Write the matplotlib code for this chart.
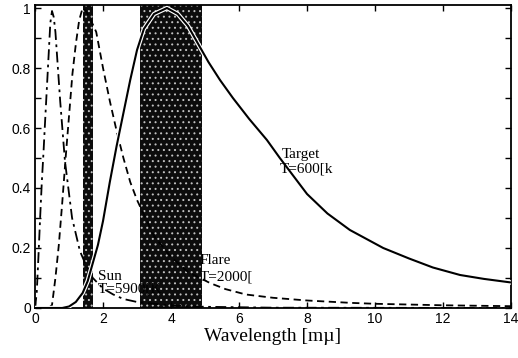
import matplotlib
matplotlib.use("Agg")
import matplotlib.pyplot as plt
import matplotlib.patheffects as pe
import numpy as np

# values (normalised radiance vs wavelength)
sun_x = [0.0, 0.05, 0.1, 0.15, 0.2, 0.25, 0.3, 0.38, 0.45, 0.5, 0.55, 0.6, 0.74, 0.88,
         1.09, 1.32, 1.47, 1.7, 2.0, 2.3, 2.6, 3.0, 4.0, 5.0, 7.0, 14.0]
sun_y = [0.0, 0.05, 0.17, 0.30, 0.42, 0.52, 0.63, 0.80, 0.95, 0.99, 0.97, 0.92, 0.69, 0.49,
         0.30, 0.19, 0.15, 0.10, 0.065, 0.045, 0.03, 0.02, 0.008, 0.004, 0.001, 0.0]

flare_x = [0.4, 0.5, 0.6, 0.7, 0.8, 0.9, 1.0, 1.1, 1.2, 1.3, 1.4, 1.5, 1.6, 1.8, 2.0, 2.2,
           2.4, 2.6, 2.8, 3.0, 3.5, 4.0, 4.5, 5.15, 5.6, 6.2, 7.0, 8.0, 9.3, 10.0, 12.0, 14.0]
flare_y = [0.0, 0.01, 0.1, 0.21, 0.35, 0.5, 0.64, 0.78, 0.88, 0.96, 1.0, 0.99, 0.97, 0.92,
           0.80, 0.69, 0.59, 0.50, 0.42, 0.36, 0.24, 0.17, 0.12, 0.083, 0.063, 0.045, 0.034,
           0.025, 0.017, 0.014, 0.009, 0.006]

target_x = [0.0, 0.8, 1.0, 1.2, 1.4, 1.55, 1.7, 1.85, 2.0, 2.2, 2.4, 2.6, 2.8, 3.0, 3.2,
            3.5, 3.88, 4.2, 4.5, 4.8, 5.1, 5.44, 5.82, 6.3, 6.82, 7.2, 7.5, 8.0, 8.6, 9.26,
            10.24, 11.0, 11.7, 12.5, 13.2, 14.0]
target_y = [0.0, 0.0, 0.005, 0.02, 0.05, 0.09, 0.15, 0.21, 0.29, 0.42, 0.54, 0.65, 0.76,
            0.86, 0.93, 0.98, 1.0, 0.98, 0.94, 0.88, 0.82, 0.76, 0.70, 0.63, 0.56, 0.50,
            0.455, 0.38, 0.315, 0.26, 0.20, 0.165, 0.135, 0.11, 0.097, 0.085]

# shaded wavelength bands
bands = [(1.4, 1.7), (3.1, 4.9)]

x_ticks = [0, 2, 4, 6, 8, 10, 12, 14]
y_ticks = [0, 0.1, 0.2, 0.3, 0.4, 0.5, 0.6, 0.7, 0.8, 0.9, 1.0]
y_labels = ['0', '', '0.2', '', '0.4', '', '0.6', '', '0.8', '', '1']

plt.rcParams['hatch.linewidth'] = 0.7
plt.rcParams['hatch.color'] = '#c0c0c0'

fig = plt.figure(figsize=(5.18, 3.58), dpi=100)
ax = fig.add_axes([0.0676, 0.1397, 0.919, 0.8463])

for lo, hi in bands:
    ax.axvspan(lo, hi, facecolor='#0c0c0c', edgecolor='#c0c0c0', hatch='...',
               linewidth=0, zorder=1)

ax.plot(sun_x, sun_y, color='black', lw=1.3, linestyle=(0, (6, 2.5, 1.5, 2.5)), zorder=3)
ax.plot(flare_x, flare_y, color='black', lw=1.3, linestyle=(0, (4, 2.5)), zorder=3)
ax.plot(target_x, target_y, color='black', lw=1.5, zorder=4,
        path_effects=[pe.Stroke(linewidth=3.2, foreground='white'), pe.Normal()])

serif = 'Liberation Serif'
ax.text(1.85, 0.093, 'Sun', family=serif, fontsize=11, zorder=2)
ax.text(1.85, 0.05, 'T=5900[K', family=serif, fontsize=11, zorder=2)
ax.text(4.85, 0.147, 'Flare', family=serif, fontsize=11, zorder=5)
ax.text(4.85, 0.093, 'T=2000[', family=serif, fontsize=11, zorder=5)
ax.text(7.26, 0.50, 'Target', family=serif, fontsize=11, zorder=5)
ax.text(7.2, 0.453, 'T=600[k', family=serif, fontsize=11, zorder=5)

ax.set_xlim(0, 14)
ax.set_ylim(0, 1.01)
ax.set_xticks(x_ticks)
ax.set_xticklabels([str(t) for t in x_ticks], family='Liberation Sans', fontsize=10)
ax.set_yticks(y_ticks)
ax.set_yticklabels(y_labels, family='Liberation Sans', fontsize=10)
ax.tick_params(direction='in', top=True, right=True, length=4, width=1, pad=3)
for s in ax.spines.values():
    s.set_linewidth(1.3)

ax.set_xlabel('Wavelength [m\u00b5]', family=serif, fontsize=14, labelpad=1)

fig.savefig('out.png', dpi=100)
